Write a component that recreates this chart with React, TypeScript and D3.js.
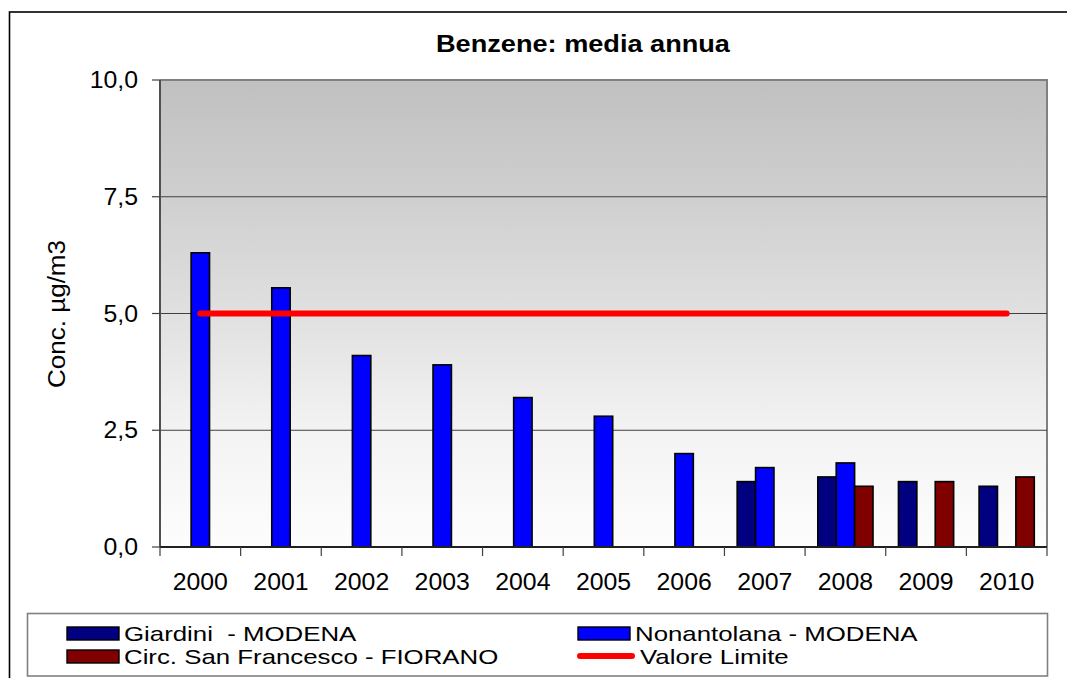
import * as d3 from 'd3';
import React from 'react';

const years = ['2000', '2001', '2002', '2003', '2004', '2005', '2006', '2007', '2008', '2009', '2010'];
const giardini = [null, null, null, null, null, null, null, 1.4, 1.5, 1.4, 1.3];
const nonantolana = [6.3, 5.55, 4.1, 3.9, 3.2, 2.8, 2.0, 1.7, 1.8, null, null];
const circSanFrancesco = [null, null, null, null, null, null, null, null, 1.3, 1.4, 1.5];
const valoreLimite = [5, 5, 5, 5, 5, 5, 5, 5, 5, 5, 5];
const yTicks = [0, 2.5, 5, 7.5, 10];

const series = [
  { name: 'Giardini  - MODENA', values: giardini, color: '#000080' },
  { name: 'Nonantolana - MODENA', values: nonantolana, color: '#0000ff' },
  { name: 'Circ. San Francesco - FIORANO', values: circSanFrancesco, color: '#800000' },
];

const FONT = '"Liberation Sans", Arial, sans-serif';

// text helper: the source picture is a little stretched horizontally
function T({ x, y, size, anchor = 'start', bold = false, sx = 1.08, children }: any) {
  return (
    <text
      transform={`translate(${x},${y}) scale(${sx},1)`}
      fontSize={size}
      fontFamily={FONT}
      fontWeight={bold ? 'bold' : 'normal'}
      textAnchor={anchor}
      fill="#000"
      style={{ whiteSpace: 'pre' }}
    >
      {children}
    </text>
  );
}

export default function App() {
  const W = 1067;
  const H = 678;
  const plot = { left: 160, right: 1047, top: 80, bottom: 547 };

  const x = d3.scaleBand<string>().domain(years).range([plot.left, plot.right]);
  const y = d3.scaleLinear().domain([0, 10]).range([plot.bottom, plot.top]);
  const barW = 18.4;
  const xs = d3
    .scaleBand<number>()
    .domain(series.map((_, i) => i))
    .range([-barW * 1.5, barW * 1.5]);
  const cx = (yr: string) => (x(yr) ?? 0) + x.bandwidth() / 2;

  const limitLine = d3
    .line<number>()
    .x((_, i) => cx(years[i]))
    .y((d) => y(d));

  const boundaries = years.map((yr) => x(yr) ?? 0).concat([plot.right]);

  return (
    <svg width={W} height={H} style={{ position: 'absolute', left: 0, top: 0 }}>
      <defs>
        <linearGradient id="bg" x1="0" y1="0" x2="0" y2="1">
          <stop offset="0" stopColor="#c0c0c0" />
          <stop offset="0.25" stopColor="#cfcfcf" />
          <stop offset="0.5" stopColor="#e0e0e0" />
          <stop offset="0.75" stopColor="#f3f3f3" />
          <stop offset="1" stopColor="#fdfdfd" />
        </linearGradient>
      </defs>
      <rect x={0} y={0} width={W} height={H} fill="#fff" />
      <rect x={9.5} y={12} width={1200} height={800} fill="#fff" stroke="#000" strokeWidth={1.6} />

      <T x={583} y={52} size={23} anchor="middle" bold sx={1.18}>
        Benzene: media annua
      </T>

      {/* plot area */}
      <rect x={plot.left} y={plot.top} width={plot.right - plot.left} height={plot.bottom - plot.top} fill="url(#bg)" />
      <path
        d={`M${plot.left},${plot.top}H${plot.right}V${plot.bottom}`}
        fill="none"
        stroke="#808080"
        strokeWidth={2}
      />
      {yTicks.slice(1, -1).map((t) => (
        <line key={t} x1={plot.left} x2={plot.right} y1={y(t)} y2={y(t)} stroke="#404040" strokeWidth={1} />
      ))}

      {/* bars */}
      {series.map((s, si) =>
        s.values.map((v, i) =>
          v == null ? null : (
            <rect
              key={`${si}-${i}`}
              x={cx(years[i]) + (xs(si) ?? 0)}
              y={y(v)}
              width={xs.bandwidth()}
              height={y(0) - y(v)}
              fill={s.color}
              stroke="#000"
              strokeWidth={1.6}
            />
          ),
        ),
      )}

      {/* valore limite */}
      <path d={limitLine(valoreLimite) ?? ''} fill="none" stroke="#ff0000" strokeWidth={6} strokeLinecap="round" />

      {/* axes */}
      <line x1={plot.left} x2={plot.left} y1={plot.top} y2={plot.bottom} stroke="#505050" strokeWidth={2} />
      <line x1={plot.left} x2={plot.right} y1={plot.bottom} y2={plot.bottom} stroke="#202020" strokeWidth={2} />
      {yTicks.map((t) => (
        <g key={t}>
          <line x1={plot.left - 8} x2={plot.left} y1={y(t)} y2={y(t)} stroke="#404040" strokeWidth={1.2} />
          <T x={138} y={y(t) + 8} size={23} anchor="end">
            {d3.format('.1f')(t).replace('.', ',')}
          </T>
        </g>
      ))}
      {boundaries.map((b, i) => (
        <line key={i} x1={b} x2={b} y1={plot.bottom} y2={plot.bottom + 9} stroke="#404040" strokeWidth={1.2} />
      ))}
      {years.map((yr) => (
        <T key={yr} x={cx(yr)} y={590} size={23} anchor="middle">
          {yr}
        </T>
      ))}

      <text
        transform="translate(65,314) rotate(-90)"
        fontSize={23}
        fontFamily={FONT}
        textAnchor="middle"
        textLength={148}
        lengthAdjust="spacingAndGlyphs"
      >
        Conc. µg/m3
      </text>

      {/* legend */}
      <rect x={27.5} y={613.5} width={1020} height={62.5} fill="#fff" stroke="#808080" strokeWidth={1.6} />
      {[
        { s: series[0], lx: 67, ly: 627 },
        { s: series[1], lx: 578, ly: 627 },
        { s: series[2], lx: 67, ly: 650 },
      ].map(({ s, lx, ly }) => (
        <g key={s.name}>
          <rect x={lx} y={ly} width={52} height={13} fill={s.color} stroke="#000" strokeWidth={1.4} />
          <T x={lx + 57} y={ly + 13.5} size={21} sx={1.23}>
            {s.name}
          </T>
        </g>
      ))}
      <line x1={580} x2={632} y1={656} y2={656} stroke="#ff0000" strokeWidth={6} strokeLinecap="round" />
      <T x={640} y={663.5} size={21} sx={1.23}>
        Valore Limite
      </T>
    </svg>
  );
}
